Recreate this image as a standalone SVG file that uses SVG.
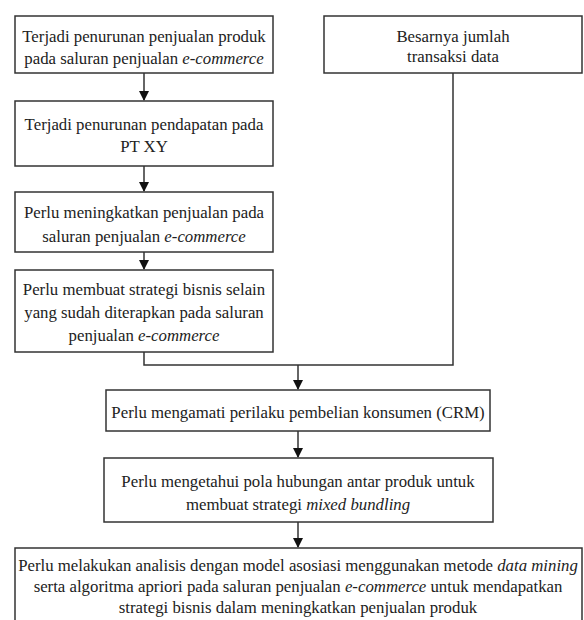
<svg xmlns="http://www.w3.org/2000/svg" width="584" height="620" viewBox="0 0 584 620">
<defs>
<style>
.box{fill:#fff;stroke:#333;stroke-width:1.5}
.t{font-family:'Liberation Serif','Times New Roman',serif;font-size:16.8px;fill:#222;text-anchor:middle}
.i{font-style:italic}
.c{fill:none;stroke:#333;stroke-width:1.5}
</style>
<marker id="ah" markerWidth="10" markerHeight="10" refX="9" refY="5" orient="auto" markerUnits="userSpaceOnUse">
<path d="M0,0 L10,5 L0,10 z" fill="#111"/>
</marker>
</defs>
<rect width="584" height="620" fill="#fff"/>
<g id="connectors">
<line class="c" x1="144" y1="73" x2="144" y2="100" marker-end="url(#ah)"/>
<line class="c" x1="144" y1="166" x2="144" y2="191" marker-end="url(#ah)"/>
<line class="c" x1="144" y1="252" x2="144" y2="269" marker-end="url(#ah)"/>
<polyline class="c" points="144,352 144,365 453,365 453,73"/>
<line class="c" x1="298" y1="365" x2="298" y2="389" marker-end="url(#ah)"/>
<line class="c" x1="298" y1="431" x2="298" y2="457" marker-end="url(#ah)"/>
<line class="c" x1="298" y1="522" x2="298" y2="547" marker-end="url(#ah)"/>
</g>
<g id="n1">
<rect class="box" x="15" y="16" width="258" height="57"/>
<text class="t" x="144" y="42">Terjadi penurunan penjualan produk</text>
<text class="t" x="144" y="64">pada saluran penjualan <tspan class="i">e-commerce</tspan></text>
</g>
<g id="n2">
<rect class="box" x="15" y="101" width="258" height="65"/>
<text class="t" x="144" y="130">Terjadi penurunan pendapatan pada</text>
<text class="t" x="144" y="152">PT XY</text>
</g>
<g id="n3">
<rect class="box" x="15" y="192" width="258" height="60"/>
<text class="t" x="144" y="218">Perlu meningkatkan penjualan pada</text>
<text class="t" x="144" y="242">saluran penjualan <tspan class="i">e-commerce</tspan></text>
</g>
<g id="n4">
<rect class="box" x="15" y="270" width="258" height="82"/>
<text class="t" x="144" y="295">Perlu membuat strategi bisnis selain</text>
<text class="t" x="144" y="318">yang sudah diterapkan pada saluran</text>
<text class="t" x="144" y="341">penjualan <tspan class="i">e-commerce</tspan></text>
</g>
<g id="n5">
<rect class="box" x="324" y="16" width="258" height="57"/>
<text class="t" x="453" y="42">Besarnya jumlah</text>
<text class="t" x="453" y="62">transaksi data</text>
</g>
<g id="n6">
<rect class="box" x="106" y="390" width="384" height="41"/>
<text class="t" x="298" y="418">Perlu mengamati perilaku pembelian konsumen (CRM)</text>
</g>
<g id="n7">
<rect class="box" x="104" y="458" width="389" height="64"/>
<text class="t" x="298" y="487">Perlu mengetahui pola hubungan antar produk untuk</text>
<text class="t" x="298" y="510">membuat strategi <tspan class="i">mixed bundling</tspan></text>
</g>
<g id="n8">
<rect class="box" x="15" y="548" width="567" height="74"/>
<text class="t" x="298" y="571">Perlu melakukan analisis dengan model asosiasi menggunakan metode <tspan class="i">data mining</tspan></text>
<text class="t" x="298" y="592">serta algoritma apriori pada saluran penjualan <tspan class="i">e-commerce</tspan> untuk mendapatkan</text>
<text class="t" x="298" y="613">strategi bisnis dalam meningkatkan penjualan produk</text>
</g>
</svg>
